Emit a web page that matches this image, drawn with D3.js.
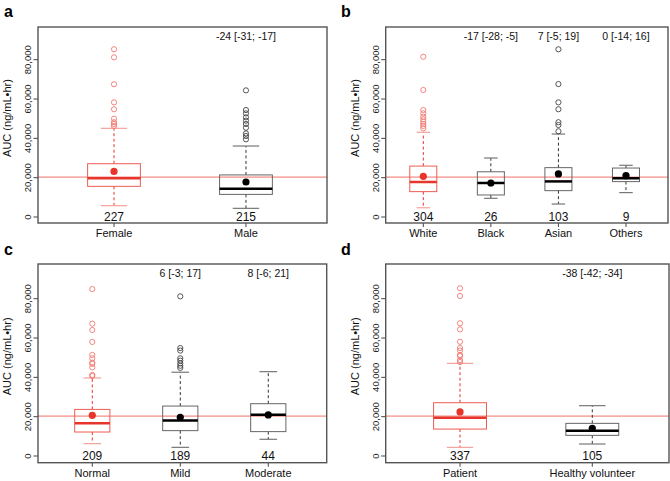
<!DOCTYPE html>
<html><head><meta charset="utf-8">
<script src="https://cdn.jsdelivr.net/npm/d3@7"></script>
<style>body{margin:0;background:#fff}svg{display:block}</style>
</head><body>
<svg id="c" width="670" height="481"></svg>
<script>
// ---------- DATA ----------
const yTicks = [0, 20000, 40000, 60000, 80000];
const refLine = 20300;
const yTitle = "AUC (ng/mL\u2022hr)";

// Panel a: sex
const aCategories = ["Female", "Male"];
const aCounts = [227, 215];
const aLower = [5750, 4400];
const aQ1 = [15600, 11500];
const aMedian = [19700, 14400];
const aQ3 = [27100, 21400];
const aUpper = [45100, 36100];
const aMean = [23200, 17800];
const aOutliers = [
  [85300, 81200, 67500, 58300, 54800, 50000, 48200, 47300, 46300],
  [64400, 54400, 52700, 50700, 49000, 47300, 45400, 42500, 41200, 39500]
];
const aAnnot = ["", "-24 [-31; -17]"];

// Panel b: race
const bCategories = ["White", "Black", "Asian", "Others"];
const bCounts = [304, 26, 103, 9];
const bLower = [4700, 9500, 6600, 12400];
const bQ1 = [12900, 11200, 13400, 18000];
const bMedian = [17800, 17300, 18100, 19700];
const bQ3 = [25900, 23000, 25100, 24900];
const bUpper = [43100, 30000, 42200, 26300];
const bMean = [20700, 17300, 21900, 21000];
const bOutliers = [
  [81500, 64600, 54400, 52700, 51000, 49700, 48500, 47300, 46300, 45100],
  [],
  [85300, 67600, 58300, 54800, 48200, 46800, 43600],
  []
];
const bAnnot = ["", "-17 [-28; -5]", "7 [-5; 19]", "0 [-14; 16]"];

// Panel c: renal function
const cCategories = ["Normal", "Mild", "Moderate"];
const cCounts = [209, 189, 44];
const cLower = [6300, 4400, 8500];
const cQ1 = [12200, 12900, 12400];
const cMedian = [16600, 18100, 21000];
const cQ3 = [23700, 25400, 26600];
const cUpper = [39700, 42600, 42900];
const cMean = [20700, 19700, 20900];
const cOutliers = [
  [84900, 67300, 64100, 58000, 51400, 49700, 47500, 46800, 45100, 41200, 40700],
  [81200, 54900, 53600, 49700, 48500, 47100, 45900, 44800],
  []
];
const cAnnot = ["", "6 [-3; 17]", "8 [-6; 21]"];

// Panel d: population
const dCategories = ["Patient", "Healthy volunteer"];
const dCounts = [337, 105];
const dLower = [4400, 6100];
const dQ1 = [13700, 10500];
const dMedian = [19500, 12900];
const dQ3 = [27100, 16600];
const dUpper = [47100, 25600];
const dMean = [22400, 14100];
const dOutliers = [
  [85300, 81400, 67500, 64400, 58100, 54900, 53600, 51400, 50800, 48800, 47800],
  []
];
const dAnnot = ["", "-38 [-42; -34]"];

// ---------- LAYOUT ----------
const panels = [
  {letter:"a", cats:aCategories, n:aCounts, lo:aLower, q1:aQ1, med:aMedian, q3:aQ3, hi:aUpper, mean:aMean, out:aOutliers, ann:aAnnot,
   box:{l:38, r:327, t:27, b:223}, xd:[0.424, 2.614], y0:217, y80:59.7, lx:4, ly:17},
  {letter:"b", cats:bCategories, n:bCounts, lo:bLower, q1:bQ1, med:bMedian, q3:bQ3, hi:bUpper, mean:bMean, out:bOutliers, ann:bAnnot,
   box:{l:385.7, r:668, t:27, b:223}, xd:[0.4435, 4.622], y0:217, y80:59.7, lx:341, ly:17},
  {letter:"c", cats:cCategories, n:cCounts, lo:cLower, q1:cQ1, med:cMedian, q3:cQ3, hi:cUpper, mean:cMean, out:cOutliers, ann:cAnnot,
   box:{l:38, r:326.7, t:264, b:462.7}, xd:[0.383, 3.664], y0:456, y80:298.7, lx:4, ly:255},
  {letter:"d", cats:dCategories, n:dCounts, lo:dLower, q1:dQ1, med:dMedian, q3:dQ3, hi:dUpper, mean:dMean, out:dOutliers, ann:dAnnot,
   box:{l:385.7, r:669, t:264, b:462.7}, xd:[0.438, 2.58], y0:456, y80:298.7, lx:341, ly:255}
];

const FONT = "'Liberation Sans', Arial, Helvetica, sans-serif";
const RED = "#e8352b", RED_BOX = "#ee5c52", RED_LIGHT = "#f4a29c", RED_OUT = "#f07a72";
const BLK_BOX = "#666", BLK_CAP = "#777";
const boxHalf = 0.2, capHalf = 0.1;

const svg = d3.select("#c");

panels.forEach(p => {
  const g = svg.append("g");
  const B = p.box;
  const x = d3.scaleLinear().domain(p.xd).range([B.l, B.r]);
  const y = d3.scaleLinear().domain([0, 80000]).range([p.y0, p.y80]);
  const idx = p.cats.map((c, i) => i);

  // panel letter
  g.append("text").attr("x", p.lx).attr("y", p.ly).text(p.letter)
    .attr("font-family", FONT).attr("font-weight", "bold").attr("font-size", 16).attr("fill", "#000");

  // y axis ticks
  const yAxis = g.append("g");
  yTicks.forEach(t => {
    yAxis.append("line").attr("x1", B.l - 4.5).attr("x2", B.l).attr("y1", y(t)).attr("y2", y(t))
      .attr("stroke", "#444").attr("stroke-width", 1);
    yAxis.append("text").attr("transform", `translate(${B.l - 10},${y(t)}) rotate(-90)`)
      .attr("dy", "0.35em").attr("text-anchor", "middle")
      .attr("font-family", FONT).attr("font-size", 9.5).attr("fill", "#222")
      .text(d3.format(",")(t));
  });
  // y title
  g.append("text").attr("transform", `translate(${B.l - 31},${(B.t + B.b) / 2 - 7}) rotate(-90)`)
    .attr("dy", "0.35em").attr("text-anchor", "middle")
    .attr("font-family", FONT).attr("font-size", 11).attr("fill", "#111").text(yTitle);

  // x ticks and labels
  idx.forEach(i => {
    const cx = x(i + 1);
    g.append("line").attr("x1", cx).attr("x2", cx).attr("y1", B.b).attr("y2", B.b + 4)
      .attr("stroke", "#444").attr("stroke-width", 1);
    g.append("text").attr("x", cx).attr("y", B.b + 14).attr("text-anchor", "middle")
      .attr("font-family", FONT).attr("font-size", 11).attr("fill", "#111").text(p.cats[i]);
  });

  // reference line
  g.append("line").attr("x1", B.l).attr("x2", B.r).attr("y1", y(refLine)).attr("y2", y(refLine))
    .attr("stroke", "#f07068").attr("stroke-width", 1);

  // boxes
  idx.forEach(i => {
    const isRef = i === 0;
    const boxCol = isRef ? RED_BOX : BLK_BOX;
    const capCol = isRef ? RED_LIGHT : BLK_CAP;
    const whCol = isRef ? RED : "#333";
    const medCol = isRef ? RED : "#000";
    const cx = x(i + 1);
    const bw = x(1 + boxHalf) - x(1);
    const cw = x(1 + capHalf) - x(1);
    // whiskers
    g.append("line").attr("x1", cx).attr("x2", cx).attr("y1", y(p.q3[i])).attr("y2", y(p.hi[i]))
      .attr("stroke", whCol).attr("stroke-width", 1).attr("stroke-dasharray", "3,2.5");
    g.append("line").attr("x1", cx).attr("x2", cx).attr("y1", y(p.q1[i])).attr("y2", y(p.lo[i]))
      .attr("stroke", whCol).attr("stroke-width", 1).attr("stroke-dasharray", "3,2.5");
    // caps
    [p.hi[i], p.lo[i]].forEach(v => {
      g.append("line").attr("x1", cx - cw).attr("x2", cx + cw).attr("y1", y(v)).attr("y2", y(v))
        .attr("stroke", capCol).attr("stroke-width", 1.2);
    });
    // box
    g.append("rect").attr("x", cx - bw).attr("width", 2 * bw)
      .attr("y", y(p.q3[i])).attr("height", y(p.q1[i]) - y(p.q3[i]))
      .attr("fill", "none").attr("stroke", boxCol).attr("stroke-width", 1);
    // median
    g.append("line").attr("x1", cx - bw).attr("x2", cx + bw).attr("y1", y(p.med[i])).attr("y2", y(p.med[i]))
      .attr("stroke", medCol).attr("stroke-width", 2.5);
    // outliers
    p.out[i].forEach(v => {
      g.append("circle").attr("cx", cx).attr("cy", y(v)).attr("r", 2.6)
        .attr("fill", "none").attr("stroke", isRef ? RED_OUT : "#444").attr("stroke-width", 0.9);
    });
    // mean
    g.append("circle").attr("cx", cx).attr("cy", y(p.mean[i])).attr("r", 3.6)
      .attr("fill", isRef ? RED : "#000");
    // count
    g.append("text").attr("x", cx).attr("y", y(0)).attr("dy", "0.36em").attr("text-anchor", "middle")
      .attr("font-family", FONT).attr("font-size", 12).attr("fill", "#111").text(p.n[i]);
    // annotation
    if (p.ann[i]) {
      g.append("text").attr("x", cx).attr("y", B.t + 9).attr("dy", "0.36em").attr("text-anchor", "middle")
        .attr("font-family", FONT).attr("font-size", 10.5).attr("fill", "#111").text(p.ann[i]);
    }
  });

  // frame
  g.append("rect").attr("x", B.l).attr("y", B.t).attr("width", B.r - B.l).attr("height", B.b - B.t)
    .attr("fill", "none").attr("stroke", "#555").attr("stroke-width", 1.4);
});
</script>
</body></html>
